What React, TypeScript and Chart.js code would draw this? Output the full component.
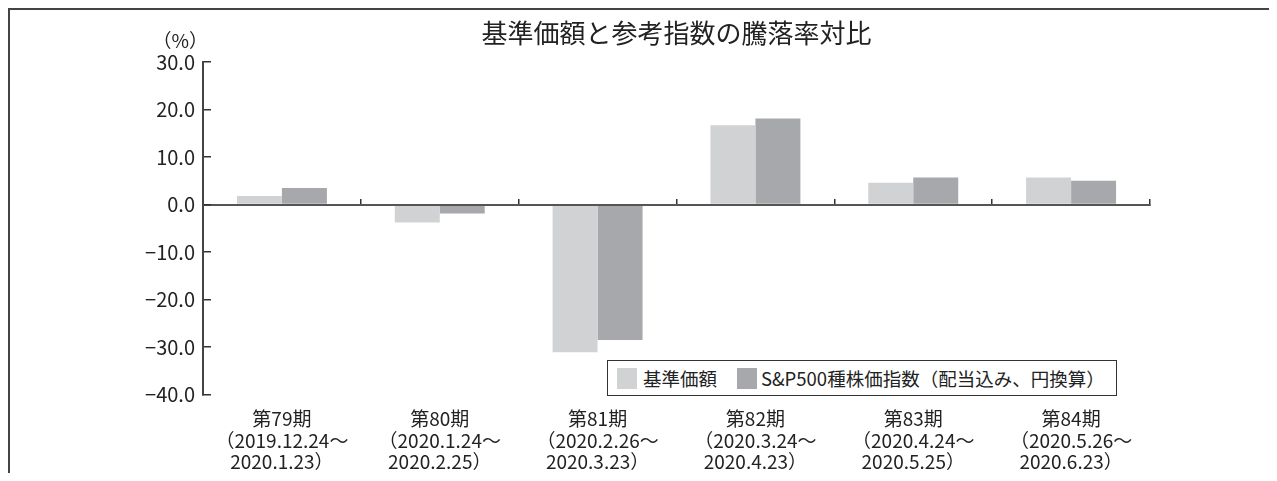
import React, { useEffect, useRef } from "react";
import { Chart, registerables } from "chart.js";

Chart.register(...registerables);

// ---- data ----
const periodNames = ["第79期", "第80期", "第81期", "第82期", "第83期", "第84期"];
const periodStarts = ["2019.12.24", "2020.1.24", "2020.2.26", "2020.3.24", "2020.4.24", "2020.5.26"];
const periodEnds = ["2020.1.23", "2020.2.25", "2020.3.23", "2020.4.23", "2020.5.25", "2020.6.23"];
const seriesNames = ["基準価額", "S&P500種株価指数（配当込み、円換算）"];
const baseValues = [1.8, -3.8, -31.1, 16.7, 4.6, 5.7];
const indexValues = [3.5, -1.9, -28.5, 18.1, 5.7, 5.0];
const seriesColors = ["#d1d2d4", "#a7a8ab"];
const yMin = -40;
const yMax = 30;
const yStep = 10;
const titleText = "基準価額と参考指数の騰落率対比";
const unitText = "（%）";

const FONT = '"Noto Sans CJK JP", "Noto Sans", sans-serif';
const TEXT = "#222";

const categoryLabels = periodNames.map((n, i) => [n, "（" + periodStarts[i] + "～", periodEnds[i] + "）"]);

function fmt(v: number): string {
  const s = Math.abs(v).toFixed(1);
  return v < 0 ? "−" + s : s;
}

export default function App() {
  const canvasRef = useRef<HTMLCanvasElement | null>(null);

  useEffect(() => {
    if (!canvasRef.current) return;
    const chart = new Chart(canvasRef.current, {
      type: "bar",
      data: {
        labels: categoryLabels,
        datasets: [
          {
            label: seriesNames[0],
            data: baseValues,
            backgroundColor: seriesColors[0],
            borderWidth: 0,
            categoryPercentage: 0.57,
            barPercentage: 1.0,
          },
          {
            label: seriesNames[1],
            data: indexValues,
            backgroundColor: seriesColors[1],
            borderWidth: 0,
            categoryPercentage: 0.57,
            barPercentage: 1.0,
          },
        ],
      },
      options: {
        responsive: false,
        animation: false,
        devicePixelRatio: 1,
        layout: { padding: { left: 0, right: 127, top: 0, bottom: 0 } },
        plugins: {
          legend: { display: false },
          tooltip: { enabled: false },
          title: {
            display: true,
            text: titleText,
            fullSize: false,
            color: TEXT,
            font: { family: FONT, size: 26, weight: "normal", lineHeight: 1.2 },
            padding: { top: 7.4, bottom: 13.4 },
          },
        },
        scales: {
          x: {
            type: "category",
            offset: true,
            grid: { display: false, drawTicks: false, offset: true },
            border: { display: false },
            ticks: {
              color: TEXT,
              font: { family: FONT, size: 19, lineHeight: 1.13 },
              padding: 14,
              maxRotation: 0,
              minRotation: 0,
              autoSkip: false,
            },
            afterFit: (s: any) => {
              s.height = 86.5;
            },
          },
          x2: {
            type: "category",
            position: { y: 0 },
            offset: true,
            ticks: { display: false },
            grid: {
              display: true,
              offset: true,
              drawOnChartArea: false,
              drawTicks: true,
              tickLength: -7,
              color: "#333",
              lineWidth: 1.5,
              z: 1,
            },
            border: { display: true, color: "#555", width: 2, z: 1 },
          },
          y: {
            type: "linear",
            min: yMin,
            max: yMax,
            ticks: {
              stepSize: yStep,
              padding: 16,
              color: TEXT,
              font: { family: FONT, size: 20 },
              callback: (v: any) => fmt(Number(v)),
            },
            grid: {
              drawOnChartArea: false,
              drawTicks: true,
              tickLength: -8,
              color: "#333",
              lineWidth: 1.5,
              z: 1,
            },
            border: { display: true, color: "#444", width: 2, z: 1 },
            afterFit: (s: any) => {
              s.width = 193;
            },
          },
        },
      } as any,
    });
    return () => chart.destroy();
  }, []);

  return (
    <div
      style={{
        position: "relative",
        width: 1269,
        height: 473,
        marginBottom: -8,
        boxSizing: "border-box",
        borderTop: "2px solid #444",
        borderLeft: "2px solid #444",
        fontFamily: FONT,
        color: TEXT,
      }}
    >
      <canvas
        ref={canvasRef}
        width={1267}
        height={471}
        style={{ position: "absolute", left: 0, top: 0, width: 1267, height: 471 }}
      />
      <div
        style={{
          position: "absolute",
          right: 1267 - 198,
          top: 19,
          fontSize: 19,
          lineHeight: "22px",
          whiteSpace: "nowrap",
        }}
      >
        {unitText}
      </div>
      <div
        style={{
          position: "absolute",
          left: 597,
          top: 350,
          height: 36,
          boxSizing: "border-box",
          border: "1.5px solid #333",
          background: "#fff",
          display: "flex",
          alignItems: "center",
          paddingLeft: 9,
          paddingRight: 11,
          fontSize: 18.5,
          whiteSpace: "nowrap",
        }}
      >
        {seriesNames.map((name, i) => (
          <div key={name} style={{ display: "flex", alignItems: "center", marginLeft: i === 0 ? 0 : 20 }}>
            <span
              style={{
                display: "inline-block",
                width: 20,
                height: 21,
                background: seriesColors[i],
                marginRight: i === 0 ? 6 : 4,
              }}
            />
            <span>{name}</span>
          </div>
        ))}
      </div>
    </div>
  );
}
